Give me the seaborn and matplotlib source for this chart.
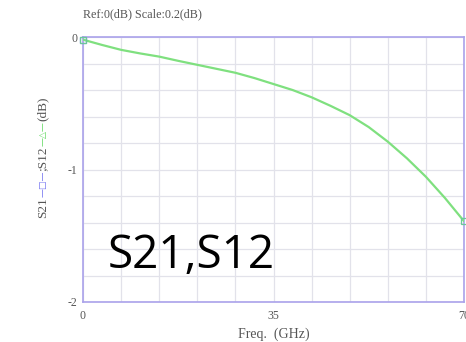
import numpy as np
import pandas as pd
import matplotlib
matplotlib.use("Agg")
import matplotlib.pyplot as plt
import seaborn as sns

# S12 transmission trace (GHz, dB)
freq_ghz = [0, 3.5, 7, 10.5, 14, 17.5, 21, 24.5, 28, 31.5, 35, 38.5, 42,
            45.5, 49, 52.5, 56, 59.5, 63, 66.5, 70]
s12_db = [-0.02, -0.06, -0.097, -0.124, -0.148, -0.18, -0.21, -0.24, -0.27,
          -0.31, -0.355, -0.40, -0.455, -0.52, -0.59, -0.68, -0.79, -0.915,
          -1.055, -1.215, -1.39]

x_ticks = [0, 35, 70]
y_ticks = [0, -1, -2]
x_tick_labels = ["0", "35", "70"]
y_tick_labels = ["0", "-1", "-2"]

df = pd.DataFrame({"freq": freq_ghz, "s12": s12_db})

sns.set_theme(style="white")
plt.rcParams["font.family"] = ["Liberation Serif", "DejaVu Serif"]

spine_col = "#aaa2ea"
grid_col = "#e2e2ea"
text_col = "#555555"
trace_col = "#7fe07f"

fig = plt.figure(figsize=(4.66, 3.42), dpi=100)
ax = fig.add_axes([83 / 466, 40 / 342, 381 / 466, 265 / 342])

sns.lineplot(data=df, x="freq", y="s12", ax=ax, color=trace_col, lw=1.6,
             estimator=None, zorder=3)

# end markers for the traces
ax.plot([0], [-0.02], marker="s", ms=5, mfc="none", mec="#8a8af0", mew=0.9,
        clip_on=False, zorder=4)
ax.plot([freq_ghz[0], freq_ghz[-1]], [s12_db[0], s12_db[-1]], ls="none",
        marker="s", ms=5, mfc="none", mec="#6cc89a", mew=0.9, clip_on=False, zorder=4)

ax.set_xlim(0, 70)
ax.set_ylim(-2, 0)
ax.set_xticks(np.arange(0, 71, 7))
ax.set_yticks(np.arange(-2, 0.01, 0.2))
ax.set_xticklabels([x_tick_labels[x_ticks.index(v)] if v in x_ticks else ""
                    for v in range(0, 71, 7)])
ylabs = []
for v in np.arange(-2, 0.01, 0.2):
    r = round(v, 1)
    ylabs.append(y_tick_labels[y_ticks.index(int(r))] if abs(r - round(r)) < 1e-6 else "")
ax.set_yticklabels(ylabs)
ax.tick_params(axis="x", length=0, labelsize=8.5, colors=text_col, pad=6)
ax.tick_params(axis="y", length=0, labelsize=8.5, colors=text_col, pad=4)
ax.grid(True, color=grid_col, lw=0.9)
for s in ax.spines.values():
    s.set_color(spine_col)
    s.set_linewidth(1.2)
ax.set_xlabel("Freq.  (GHz)", fontsize=10, color=text_col, labelpad=4)
ax.set_ylabel("")

fig.text(83 / 466, 1 - 14 / 342, "Ref:0(dB) Scale:0.2(dB)", fontsize=8.7,
         color=text_col, ha="left", va="center")

# multi-coloured y label, built bottom to top
pieces = [("S21", text_col), ("\u2014\u25a1\u2014", "#6f6ff0"), (";S12", text_col),
          ("\u2014\u25b3\u2014", "#5fd85f"), ("(dB)", text_col)]
renderer = fig.canvas.get_renderer()
y_px = 342 - 218
for txt, col in pieces:
    sym = "\u25a1" in txt or "\u25b3" in txt
    t = fig.text(43 / 466, y_px / 342, txt, rotation=90,
                 fontsize=6.5 if sym else 9.5, color=col,
                 ha="center", va="bottom",
                 family=["DejaVu Sans"] if sym else None)
    bb = t.get_window_extent(renderer)
    y_px += bb.height

fig.text(108 / 466, 1 - 268 / 342, "S21,S12", fontsize=33, color="black",
         family=["Open Sans", "DejaVu Sans"], ha="left", va="baseline")

fig.savefig("out.png", dpi=100)
